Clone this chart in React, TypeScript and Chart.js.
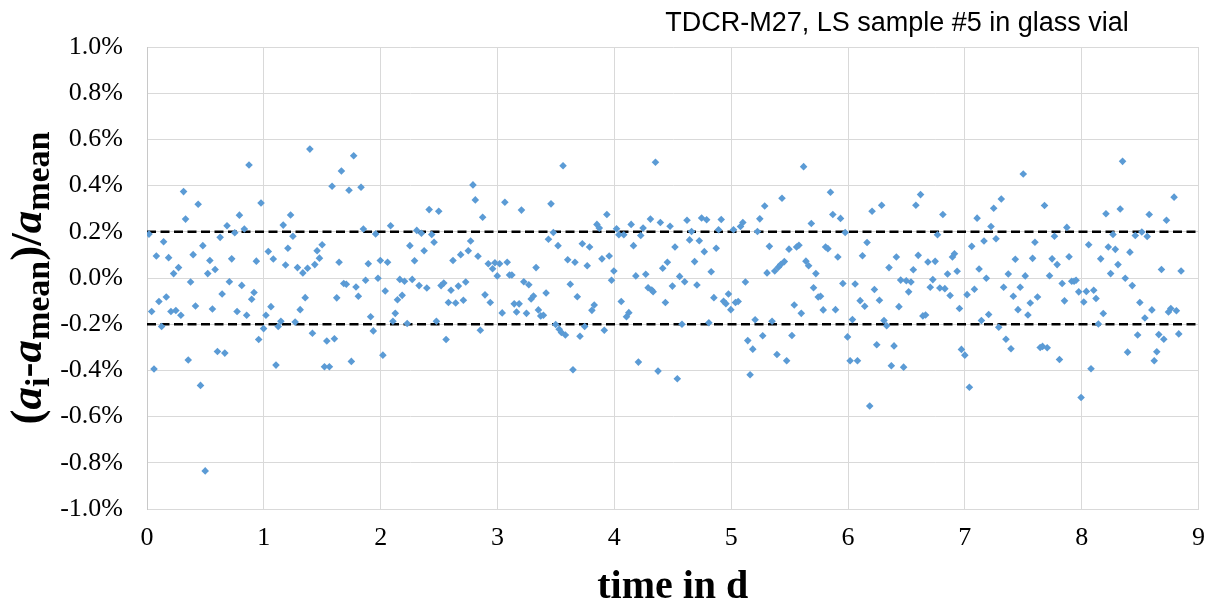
import React, { useEffect, useRef } from 'react';
import { Chart, registerables } from 'chart.js';

Chart.register(...registerables);

// ---------- data ----------
const timeDays: number[] = [
  0.017, 0.040, 0.060, 0.080, 0.102, 0.125, 0.142, 0.165, 0.185, 0.205, 0.228, 0.247, 0.270, 0.290, 0.313, 0.330, 0.353, 0.373, 0.395, 0.415, 0.438, 0.458, 0.478, 0.498, 0.520, 0.538, 0.560, 0.583, 0.603, 0.626, 0.643, 0.666, 0.685, 0.705, 0.725, 0.751, 0.771, 0.791, 0.811, 0.833, 0.853, 0.873, 0.896, 0.916, 0.936,
  0.956, 0.976, 0.998, 1.018, 1.038, 1.061, 1.081, 1.104, 1.123, 1.146, 1.166, 1.186, 1.206, 1.229, 1.249, 1.268, 1.288, 1.311, 1.334, 1.354, 1.374, 1.394, 1.416, 1.436, 1.456, 1.476, 1.499, 1.519, 1.539, 1.561, 1.584, 1.604, 1.624, 1.644, 1.664, 1.684, 1.706, 1.729, 1.749, 1.769, 1.789, 1.809, 1.832, 1.852, 1.871, 1.894, 1.914,
  1.937, 1.957, 1.977, 1.997, 2.019, 2.039, 2.059, 2.085, 2.105, 2.125, 2.144, 2.164, 2.184, 2.204, 2.227, 2.250, 2.270, 2.290, 2.309, 2.329, 2.349, 2.372, 2.395, 2.415, 2.437, 2.457, 2.477, 2.497, 2.517, 2.540, 2.560, 2.580, 2.602, 2.619, 2.642, 2.665, 2.685, 2.708, 2.728, 2.750, 2.770, 2.790, 2.810, 2.833, 2.853, 2.873, 2.893,
  2.921, 2.938, 2.958, 2.978, 2.998, 3.018, 3.040, 3.063, 3.083, 3.103, 3.123, 3.143, 3.163, 3.185, 3.205, 3.225, 3.248, 3.268, 3.288, 3.308, 3.330, 3.350, 3.370, 3.393, 3.416, 3.436, 3.458, 3.478, 3.498, 3.518, 3.528, 3.547, 3.561, 3.581, 3.601, 3.623, 3.646, 3.663, 3.683, 3.706, 3.726, 3.746, 3.768, 3.788, 3.808, 3.828, 3.851, 3.871,
  3.894, 3.914, 3.936, 3.956, 3.976, 3.996, 4.019, 4.039, 4.059, 4.081, 4.104, 4.124, 4.144, 4.164, 4.184, 4.206, 4.226, 4.246, 4.269, 4.289, 4.309, 4.320, 4.332, 4.352, 4.374, 4.394, 4.414, 4.437, 4.454, 4.477, 4.497, 4.519, 4.539, 4.559, 4.579, 4.602, 4.622, 4.644, 4.661, 4.687, 4.707, 4.727, 4.747, 4.770, 4.790, 4.809, 4.829, 4.852,
  4.872, 4.892, 4.915, 4.935, 4.955, 4.977, 4.997, 5.020, 5.037, 5.060, 5.080, 5.100, 5.122, 5.142, 5.162, 5.185, 5.205, 5.225, 5.245, 5.270, 5.287, 5.307, 5.327, 5.350, 5.373, 5.392, 5.404, 5.424, 5.435, 5.455, 5.475, 5.495, 5.520, 5.540, 5.560, 5.580, 5.600, 5.620, 5.640, 5.663, 5.686, 5.705, 5.725, 5.745, 5.765, 5.788, 5.808, 5.828, 5.850,
  5.870, 5.893, 5.913, 5.936, 5.956, 5.976, 5.996, 6.018, 6.038, 6.061, 6.081, 6.104, 6.124, 6.143, 6.163, 6.186, 6.206, 6.226, 6.246, 6.269, 6.288, 6.308, 6.331, 6.351, 6.371, 6.394, 6.414, 6.436, 6.451, 6.476, 6.499, 6.519, 6.539, 6.559, 6.581, 6.601, 6.621, 6.641, 6.664, 6.684, 6.704, 6.726, 6.746, 6.766, 6.786, 6.812, 6.829,
  6.852, 6.874, 6.894, 6.911, 6.934, 6.954, 6.971, 7.000, 7.019, 7.039, 7.059, 7.082, 7.105, 7.122, 7.142, 7.164, 7.184, 7.204, 7.224, 7.247, 7.267, 7.290, 7.312, 7.332, 7.352, 7.372, 7.395, 7.415, 7.432, 7.455, 7.474, 7.500, 7.517, 7.540, 7.560, 7.580, 7.600, 7.622, 7.645, 7.665, 7.682, 7.705, 7.725, 7.747, 7.767, 7.790, 7.810,
  7.833, 7.853, 7.873, 7.892, 7.915, 7.935, 7.952, 7.975, 7.995, 8.018, 8.040, 8.060, 8.080, 8.103, 8.123, 8.143, 8.163, 8.185, 8.208, 8.228, 8.248, 8.268, 8.288, 8.311, 8.330, 8.350, 8.373, 8.393, 8.413, 8.433, 8.459, 8.479, 8.498, 8.515, 8.541, 8.561, 8.578, 8.601, 8.621, 8.643, 8.660, 8.683, 8.703, 8.726, 8.743, 8.763, 8.791, 8.811, 8.831, 8.851,
];

// relative deviation (a_i - a_mean)/a_mean in percent
const relativeDeviation: number[] = [
  0.190, -0.145, -0.394, 0.095, -0.102, -0.210, 0.157, -0.082, 0.088, -0.145, 0.019, -0.141, 0.045, -0.161, 0.374, 0.255, -0.355, -0.017, 0.101, -0.121, 0.319, -0.465, 0.140, -0.835, 0.019, 0.076, -0.134, 0.037, -0.318, 0.176, -0.069, -0.325, 0.226, -0.016, 0.083, 0.196, -0.145, 0.272, -0.032, 0.212, -0.161, 0.489, -0.092, -0.063, 0.073,
  -0.266, 0.325, -0.219, -0.161, 0.115, -0.124, 0.082, -0.377, -0.210, -0.187, 0.229, 0.056, 0.129, 0.273, 0.181, -0.191, 0.045, -0.137, 0.022, -0.085, 0.042, 0.558, -0.239, 0.058, 0.118, 0.086, 0.144, -0.384, -0.273, -0.384, 0.397, -0.263, -0.086, 0.068, 0.463, -0.024, -0.027, 0.380, -0.361, 0.529, -0.039, -0.079, 0.393, 0.212, -0.010, 0.062, -0.168,
  -0.229, 0.191, -0.001, 0.076, -0.334, -0.056, 0.068, 0.226, -0.187, -0.153, -0.094, -0.006, -0.075, -0.014, -0.197, 0.140, -0.006, 0.075, 0.206, -0.033, 0.194, 0.118, -0.043, 0.296, 0.188, 0.155, -0.187, 0.289, -0.033, -0.022, -0.266, -0.106, -0.053, 0.076, -0.108, -0.035, 0.101, -0.096, -0.017, 0.118, 0.160, 0.403, 0.338, 0.094, -0.226, 0.263, -0.073,
  0.062, -0.106, 0.040, 0.066, 0.009, 0.062, -0.151, 0.328, 0.068, 0.013, 0.013, -0.112, -0.147, -0.112, 0.294, -0.016, -0.153, -0.029, -0.091, -0.078, 0.045, -0.138, -0.164, -0.161, -0.065, 0.168, 0.321, 0.197, -0.201, 0.140, -0.222, -0.236, 0.486, -0.247, 0.079, -0.027, -0.397, 0.068, -0.081, -0.252, 0.148, -0.210, 0.053, 0.134, -0.140, -0.117, 0.232, 0.216,
  0.083, -0.226, 0.275, 0.095, -0.010, 0.030, 0.213, 0.187, -0.102, 0.187, -0.168, -0.150, 0.232, 0.140, 0.009, -0.364, 0.184, 0.216, 0.016, -0.042, 0.255, -0.052, -0.059, 0.501, -0.403, 0.240, 0.042, -0.106, 0.068, 0.224, -0.035, 0.134, -0.436, 0.007, -0.200, -0.016, 0.250, 0.165, 0.201, 0.071, -0.030, 0.161, 0.260, 0.114, 0.252, -0.194, 0.027, -0.085,
  0.129, 0.209, 0.253, -0.101, -0.111, -0.069, -0.137, 0.209, -0.106, -0.102, 0.223, 0.240, -0.017, -0.271, -0.419, -0.308, -0.181, 0.201, 0.256, -0.250, 0.312, 0.022, 0.137, -0.187, 0.030, -0.331, 0.047, 0.058, 0.345, 0.071, -0.358, 0.125, -0.249, -0.117, 0.134, 0.142, -0.153, 0.482, 0.073, 0.053, 0.236, -0.042, 0.019, -0.082, -0.079, -0.138, 0.134, 0.127, 0.371,
  0.275, -0.137, 0.091, 0.258, -0.024, 0.197, -0.255, -0.358, -0.180, -0.026, -0.358, -0.098, 0.096, -0.122, 0.154, -0.554, 0.289, -0.050, -0.289, -0.096, 0.315, -0.184, -0.207, 0.045, -0.380, -0.294, 0.091, -0.124, -0.009, -0.386, -0.012, -0.060, -0.017, 0.036, 0.315, 0.098, 0.361, -0.164, -0.160, 0.069, -0.040, -0.007, 0.072, 0.187, -0.043, 0.275, -0.046,
  0.017, -0.076, 0.091, 0.105, 0.029, -0.132, -0.309, -0.334, -0.072, -0.473, 0.137, -0.049, 0.259, 0.039, -0.184, 0.160, -0.001, -0.158, 0.223, 0.302, 0.170, -0.213, 0.342, -0.040, -0.265, 0.017, -0.306, -0.079, 0.081, -0.137, -0.040, 0.450, 0.009, -0.160, -0.108, 0.085, 0.155, -0.082, -0.301, -0.296, 0.314, -0.302, 0.010, 0.083, 0.181, 0.058, -0.353,
  -0.024, -0.099, 0.219, 0.092, -0.014, -0.014, -0.010, -0.060, -0.517, -0.104, -0.058, 0.144, -0.393, -0.053, -0.089, -0.199, 0.083, -0.154, 0.278, 0.134, 0.019, 0.188, 0.124, 0.058, 0.299, 0.505, -0.001, -0.321, 0.112, -0.033, 0.184, -0.247, -0.106, 0.199, -0.173, 0.180, 0.275, -0.138, -0.358, -0.319, -0.245, 0.037, -0.265, 0.250, -0.147, -0.132, 0.350, -0.142, -0.242, 0.030,
];

// ±0.2 % limit lines spanning the whole time range
const limitTimes: number[] = [0, 9];
const upperLimit: number[] = [0.2, 0.2];
const lowerLimit: number[] = [-0.2, -0.2];

// axis ranges / ticks
const xRange: number[] = [0, 9];
const xStep = 1;
const yRange: number[] = [-1.0, 1.0];
const yStep = 0.2;

// texts
const chartTitle = 'TDCR-M27, LS sample #5 in glass vial';
const xAxisTitle = 'time in d';
const yAxisTitleParts: { text: string; italic: boolean; sub: boolean }[] = [
  { text: '(', italic: false, sub: false },
  { text: 'a', italic: true, sub: false },
  { text: 'i', italic: false, sub: true },
  { text: '-', italic: false, sub: false },
  { text: 'a', italic: true, sub: false },
  { text: 'mean', italic: false, sub: true },
  { text: ')/', italic: false, sub: false },
  { text: 'a', italic: true, sub: false },
  { text: 'mean', italic: false, sub: true },
];

const SERIF = "'Liberation Serif', 'Times New Roman', serif";
const SANS = "'Liberation Sans', Arial, sans-serif";

const textPlugin = {
  id: 'customTexts',
  afterDraw(chart: any) {
    const ctx: CanvasRenderingContext2D = chart.ctx;
    const area = chart.chartArea;
    ctx.save();
    ctx.fillStyle = '#000';

    // chart title (top right)
    ctx.font = `27px ${SANS}`;
    ctx.textAlign = 'center';
    ctx.textBaseline = 'alphabetic';
    ctx.fillText(chartTitle, 897, 31);

    // x-axis title
    ctx.font = `bold 40px ${SERIF}`;
    ctx.fillText(xAxisTitle, (area.left + area.right) / 2, 598);

    // y-axis title with subscripts, rotated
    const mainSize = 45;
    const subSize = 34;
    const fontFor = (p: { italic: boolean; sub: boolean }) =>
      `${p.italic ? 'italic ' : ''}bold ${p.sub ? subSize : mainSize}px ${SERIF}`;
    let total = 0;
    const widths = yAxisTitleParts.map((p) => {
      ctx.font = fontFor(p);
      const w = ctx.measureText(p.text).width;
      total += w;
      return w;
    });
    const cy = (area.top + area.bottom) / 2;
    ctx.translate(41, cy);
    ctx.rotate(-Math.PI / 2);
    ctx.textAlign = 'left';
    let x = -total / 2;
    yAxisTitleParts.forEach((p, i) => {
      ctx.font = fontFor(p);
      ctx.fillText(p.text, x, p.sub ? 8 : 0);
      x += widths[i];
    });
    ctx.restore();
  },
};

export default function App() {
  const canvasRef = useRef<HTMLCanvasElement | null>(null);

  useEffect(() => {
    if (!canvasRef.current) return;
    const points = timeDays.map((t, i) => ({ x: t, y: relativeDeviation[i] }));
    const upper = limitTimes.map((t, i) => ({ x: t, y: upperLimit[i] }));
    const lower = limitTimes.map((t, i) => ({ x: t, y: lowerLimit[i] }));

    const chart = new Chart(canvasRef.current, {
      type: 'scatter',
      data: {
        datasets: [
          {
            label: 'relative deviation',
            data: points,
            pointStyle: 'rectRot',
            pointRadius: 3.8,
            pointBackgroundColor: '#5B9BD5',
            pointBorderColor: '#5B9BD5',
            pointBorderWidth: 0,
            showLine: false,
          },
          {
            label: '+0.2%',
            type: 'line',
            data: upper,
            borderColor: '#000',
            borderWidth: 2.5,
            borderDash: [9, 4.5],
            pointRadius: 0,
            fill: false,
          },
          {
            label: '-0.2%',
            type: 'line',
            data: lower,
            borderColor: '#000',
            borderWidth: 2.5,
            borderDash: [9, 4.5],
            pointRadius: 0,
            fill: false,
          },
        ],
      } as any,
      options: {
        animation: false,
        responsive: false,
        maintainAspectRatio: false,
        devicePixelRatio: 1,
        layout: { padding: { left: 0, right: 17, top: 47, bottom: 0 } },
        plugins: {
          legend: { display: false },
          title: { display: false },
          tooltip: { enabled: false },
        },
        scales: {
          x: {
            type: 'linear',
            min: xRange[0],
            max: xRange[1],
            ticks: {
              stepSize: xStep,
              color: '#000',
              font: { family: SERIF, size: 26 },
              padding: 14,
            },
            grid: { color: '#D9D9D9', lineWidth: 1, drawTicks: false },
            border: { color: '#D9D9D9', width: 1 },
            afterFit: (s: any) => {
              s.height = 98;
            },
          },
          y: {
            type: 'linear',
            min: yRange[0],
            max: yRange[1],
            ticks: {
              stepSize: yStep,
              color: '#000',
              font: { family: SERIF, size: 26 },
              padding: 24,
              callback: (v: any) => `${Number(v).toFixed(1)}%`,
            },
            grid: { color: '#D9D9D9', lineWidth: 1, drawTicks: false },
            border: { color: '#C8C8C8', width: 1 },
            afterFit: (s: any) => {
              s.width = 147;
            },
          },
        },
      } as any,
      plugins: [textPlugin],
    });
    return () => chart.destroy();
  }, []);

  return (
    <div style={{ position: 'absolute', left: 0, top: 0, width: 1219, height: 607, background: '#fff' }}>
      <canvas ref={canvasRef} width={1219} height={607} />
    </div>
  );
}
